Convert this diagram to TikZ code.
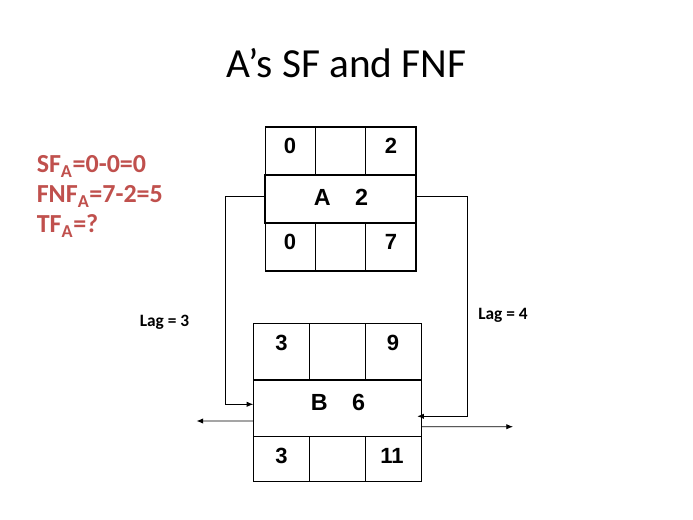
\documentclass[tikz,border=0pt]{standalone}
\usepackage{fontspec}
\setmainfont{Carlito}
\newfontfamily\boxfont{Liberation Sans}
\usetikzlibrary{arrows.meta,calc}
\definecolor{redtxt}{HTML}{C0504D}
\begin{document}
\begin{tikzpicture}[x=0.75pt,y=-0.75pt,
  cellbox/.style={draw,line width=0.8pt,inner sep=0pt,outer sep=0pt},
  celltxt/.style={inner sep=0pt,font=\boxfont\bfseries\fontsize{16.5}{18}\selectfont},
  midtxt/.style={inner sep=0pt,font=\boxfont\bfseries\fontsize{17.5}{20}\selectfont},
  lagtxt/.style={inner sep=0pt,anchor=base,font=\bfseries\fontsize{13}{15}\selectfont},
  redline/.style={inner sep=0pt,anchor=base west,text=redtxt,font=\bfseries\fontsize{19.5}{22}\selectfont},
  conn/.style={line width=0.6pt},
  arr/.style={conn,-{Latex[length=5pt,width=4pt]}}]
\useasboundingbox (0,0) rectangle (693,520);
\fill[white] (0,0) rectangle (693,520);
% title
\node[inner sep=0pt,anchor=base,font=\fontsize{31}{36}\selectfont] (title) at (346.5,77.7) {A’s SF and FNF};
% red text
\node[redline] (sf) at (36.5,173) {SF\textsubscript{A}=0-0=0};
\node[redline] (fnf) at (36.5,203) {FNF\textsubscript{A}=7-2=5};
\node[redline] (tf) at (36.5,233) {TF\textsubscript{A}=?};
% box A
\node[cellbox,minimum width=37.75pt,minimum height=36pt] (A1) at (290.2,151) {};
\node[cellbox,minimum width=37.75pt,minimum height=36pt] (A2) at (340.5,151) {};
\node[cellbox,minimum width=37.75pt,minimum height=36pt] (A3) at (390.8,151) {};
\node[cellbox,minimum width=113.25pt,minimum height=36pt] (A) at (340.5,199) {};
\node[cellbox,minimum width=37.75pt,minimum height=36pt] (A4) at (290.2,247) {};
\node[cellbox,minimum width=37.75pt,minimum height=36pt] (A5) at (340.5,247) {};
\node[cellbox,minimum width=37.75pt,minimum height=36pt] (A6) at (390.8,247) {};
\node[celltxt] (tA1) at (290,146) {0};
\node[celltxt] (tA3) at (391,146) {2};
\node[midtxt] (tA) at (341,197) {A\hspace{1.05em}2};
\node[celltxt] (tA4) at (290,241.7) {0};
\node[celltxt] (tA6) at (391,241.7) {7};
% box B
\node[cellbox,minimum width=42pt,minimum height=42.5pt] (B1) at (281.3,351.7) {};
\node[cellbox,minimum width=42pt,minimum height=42.5pt] (B2) at (337.3,351.7) {};
\node[cellbox,minimum width=42pt,minimum height=42.5pt] (B3) at (393.3,351.7) {};
\node[cellbox,minimum width=126pt,minimum height=42.5pt] (B) at (337.3,408.3) {};
\node[cellbox,minimum width=42pt,minimum height=33.75pt] (B4) at (281.3,459.2) {};
\node[cellbox,minimum width=42pt,minimum height=33.75pt] (B5) at (337.3,459.2) {};
\node[cellbox,minimum width=42pt,minimum height=33.75pt] (B6) at (393.3,459.2) {};
\node[celltxt] (tB1) at (281.5,343) {3};
\node[celltxt] (tB3) at (393,343) {9};
\node[midtxt] (tB) at (338,402.7) {B\hspace{1.05em}6};
\node[celltxt] (tB4) at (281.5,455.7) {3};
\node[celltxt] (tB6) at (392,455.7) {11};
% lag labels
\node[lagtxt] (lag3) at (164.5,326.7) {Lag = 3};
\node[lagtxt] (lag4) at (503,319.5) {Lag = 4};
% connectors
\draw[arr] ($(A.west)+(0,-3)$) -- ++(-40,0) |- ($(B.west)+(0,-4)$);
\draw[arr] ($(A.east)+(0,-3)$) -- ++(51,0) |- ($(B.east)+(-4,8)$);
\coordinate (outL) at (196.5,421);
\coordinate (outR) at (513,426.7);
\draw[arr] ($(B.west)+(0,12.7)$) -- (outL);
\draw[arr] ($(B.east)+(0,18.4)$) -- (outR);
\end{tikzpicture}
\end{document}
